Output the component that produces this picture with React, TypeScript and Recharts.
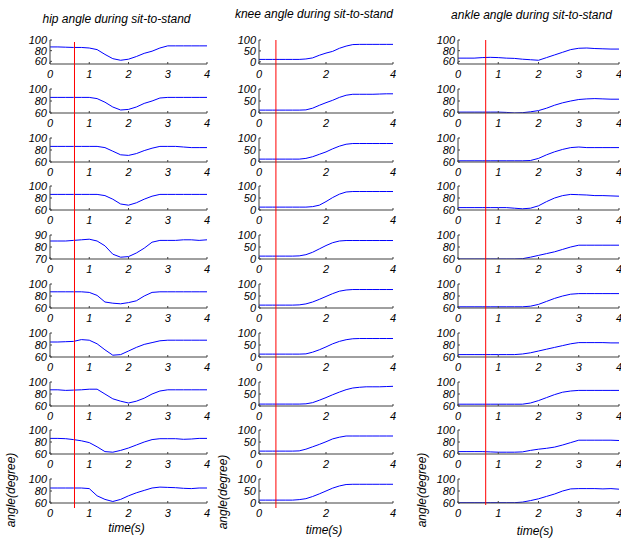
import { LineChart, Line, XAxis, YAxis, ReferenceLine } from "recharts";

// sample times (s)
const times = [0, 0.2, 0.4, 0.6, 0.8, 1, 1.2, 1.4, 1.6, 1.8, 2, 2.2, 2.4, 2.6, 2.8, 3, 3.2, 3.4, 3.6, 3.8, 4];

// hip angle, one row per trial
const hipAngles = [
  [87, 87, 86.5, 86, 86, 85, 82, 73, 65, 62, 64, 69, 75, 79, 85, 89, 89, 89, 89, 89, 89],
  [86, 86, 86, 86, 86, 86, 84, 78, 70, 65, 66, 70, 76, 80, 85, 86, 86, 86, 86, 86, 86],
  [86, 86, 86, 86, 86, 86, 86, 84, 78, 72, 71, 74, 79, 83, 86, 86, 86, 85, 84, 84, 84],
  [86, 86, 86, 86, 86, 86, 86, 84, 78, 70, 68, 72, 78, 83, 86, 86, 86, 86, 86, 86, 86],
  [85, 85, 85, 85.5, 86, 86.5, 85, 81, 74, 71.5, 72, 75, 79, 84, 85.5, 85.5, 85.5, 86, 86, 85.5, 86],
  [87, 87, 87, 87, 87, 86, 81, 70, 68, 67, 69, 72, 80, 86, 87, 87, 87, 87, 87, 87, 87],
  [85, 85, 85.5, 86, 89, 88, 82, 72, 63, 64, 70, 76, 81, 84, 87, 88, 88, 88, 88, 88, 88],
  [87, 87, 86, 86.5, 87, 88, 88, 80, 72, 68, 65, 68, 73, 80, 85, 87, 87, 87, 87, 87, 87],
  [86, 86, 85.5, 84, 82, 79, 72, 64, 63, 66, 70, 75, 80, 84, 85.5, 85.5, 85.5, 84.5, 85, 86, 86],
  [85, 85, 85, 85, 85, 84, 72, 66, 62.5, 66, 72, 77, 81, 85, 86.5, 86, 85.5, 84.5, 84, 85, 85],
];

const kneeAngles = [
  [11, 11, 11, 11, 11, 11, 11, 13, 18, 30, 40, 48, 62, 72, 79, 80, 80, 80, 80, 80, 80],
  [12, 12, 12, 12, 12, 12, 12, 13, 20, 32, 43, 53, 65, 74, 78, 78, 78, 78, 79, 80, 80],
  [12, 12, 12, 12, 12, 12, 12, 15, 22, 32, 42, 55, 66, 74, 77, 77, 77, 77, 77, 77, 77],
  [12, 12, 12, 12, 12, 12, 12, 12, 14, 20, 35, 52, 66, 75, 77, 77, 77, 77, 77, 77, 77],
  [12, 12, 12, 12, 12, 12, 13, 18, 28, 42, 56, 68, 75, 77, 77, 77, 77, 77, 77, 77, 77],
  [12, 12, 12, 12, 12, 12, 13, 17, 25, 36, 48, 60, 70, 75, 77, 77, 77, 77, 77, 77, 77],
  [12, 12, 12, 12, 12, 12, 12, 13, 20, 30, 42, 55, 65, 72, 76, 77, 77, 77, 77, 77, 77],
  [8, 8, 8, 8, 8, 8, 8, 9, 14, 24, 35, 47, 58, 68, 75, 78, 80, 80, 80, 81, 82],
  [12, 12, 12, 12, 12, 12, 13, 20, 30, 40, 51, 63, 70, 75, 75, 75, 75, 75, 75, 75, 75],
  [12, 12, 12, 12, 12, 12, 14, 18, 27, 38, 50, 62, 71, 77, 78, 78, 78, 78, 78, 78, 78],
];

const ankleAngles = [
  [66, 66, 66, 67, 67.5, 67, 66, 65.5, 64, 63, 62, 67, 72, 77, 82, 84.5, 85, 84, 83.5, 83, 83],
  [61.5, 61.5, 61.5, 61.5, 61.5, 61.5, 61, 60, 60.5, 62, 64, 68, 73, 77, 80, 82.5, 83.5, 84, 83.5, 83, 83],
  [62, 62, 62, 62, 62, 62, 62, 62, 62, 62.5, 66, 72, 77, 81, 84, 85, 84, 84, 84, 84, 84],
  [64, 64, 64, 64, 64, 64, 64, 63, 62, 63, 67, 74, 80, 84, 86, 85.5, 85, 84, 84, 83.5, 83],
  [60, 60, 60, 60, 60, 60, 60, 60, 60.5, 63, 66, 69, 72, 76, 80, 83, 83, 83, 83, 83, 83],
  [62, 62, 62, 62, 62, 62, 62, 62, 62, 63, 66, 71, 76, 80, 83, 84, 84, 84, 84, 84, 84],
  [64, 64, 64, 64, 64, 64, 64, 64, 65, 67, 70, 73, 76, 79, 82, 84, 84, 84, 84, 83.5, 83.5],
  [63, 63, 63, 63, 63, 63, 63, 63, 63, 65, 69, 74, 79, 83, 85, 86, 86, 86, 86, 86, 86],
  [64, 64, 64, 64, 63.5, 63, 63, 63, 63.5, 66, 68, 69.5, 71.5, 75, 79, 83, 83, 83, 83, 83, 82.5],
  [60.5, 60.5, 60.5, 60.5, 60.5, 60.5, 60.5, 60.5, 61.5, 64, 67, 71, 75, 80, 83.5, 84, 84, 84, 83.5, 84, 83],
];

// y limits and ticks per row
const hipRanges = [[55, 100], [60, 100], [60, 100], [60, 100], [70, 90], [60, 100], [60, 100], [60, 100], [60, 100], [60, 100]];
const hipYTicks = [[60, 80, 100], [60, 80, 100], [60, 80, 100], [60, 80, 100], [70, 80, 90], [60, 80, 100], [60, 80, 100], [60, 80, 100], [60, 80, 100], [60, 80, 100]];
const kneeRanges = [[-10, 100], [0, 100], [0, 100], [0, 100], [0, 100], [0, 100], [0, 100], [0, 100], [0, 100], [0, 100]];
const kneeYTicks = [0, 50, 100];
const ankleRanges = [[55, 100], [60, 100], [60, 100], [60, 100], [60, 100], [60, 100], [60, 100], [60, 100], [60, 100], [60, 100]];
const ankleYTicks = [60, 80, 100];

const hipXTicks = [0, 1, 2, 3, 4];
const kneeXTicks = [0, 2, 4];
const ankleXTicks = [0, 1, 2, 3, 4];

// red marker time in each column
const markerTimes = [0.624, 0.505, 0.688];

const titles = ["hip angle during sit-to-stand", "knee angle during sit-to-stand", "ankle angle during sit-to-stand"];

const FONT = '"Liberation Sans", Arial, sans-serif';
const AXIS = "#404040";
const TICK = { fill: "#000", fontSize: 11, fontStyle: "italic", fontFamily: FONT };
const PAD_TOP = 8;
const AX_W = 40;
const AX_H = 22;
const PAD_R = 6;
const PLOT_H = 24;
const ROW_TOPS = [40, 89, 138, 186, 235, 284, 333, 382, 430, 479];

function Subplot({ values, left, right, top, domain, yTicks, xTicks }: any) {
  const data = times.map((t, i) => ({ t, v: values[i] }));
  const w = right - left;
  return (
    <div style={{ position: "absolute", left: left - AX_W, top: top - PAD_TOP }}>
      <LineChart
        width={AX_W + w + PAD_R}
        height={PAD_TOP + PLOT_H + AX_H}
        data={data}
        margin={{ top: PAD_TOP, right: PAD_R, bottom: 0, left: 0 }}
      >
        <XAxis
          dataKey="t"
          type="number"
          domain={[0, 4]}
          ticks={xTicks}
          interval={0}
          height={AX_H}
          stroke={AXIS}
          tickSize={-2}
          tickMargin={8}
          tick={TICK}
        />
        <XAxis xAxisId="top" orientation="top" type="number" domain={[0, 4]} ticks={xTicks} height={0} mirror tick={false} tickSize={2} stroke={AXIS} />
        <YAxis
          type="number"
          domain={domain}
          ticks={yTicks}
          interval={0}
          width={AX_W}
          stroke={AXIS}
          tickSize={-2}
          tickMargin={5}
          tick={TICK}
          allowDataOverflow
        />
        <YAxis yAxisId="r" orientation="right" type="number" domain={domain} ticks={yTicks} width={0} mirror tick={false} tickSize={2} stroke={AXIS} />
        <Line type="linear" dataKey="v" stroke="#0000ff" strokeWidth={1} dot={false} isAnimationActive={false} />
      </LineChart>
    </div>
  );
}

// full-height red line across one column of subplots
function Marker({ time, left, right, top, bottom }: any) {
  const data = [{ t: time, v: 0 }, { t: time, v: 1 }];
  return (
    <div style={{ position: "absolute", left, top, pointerEvents: "none" }}>
      <LineChart width={right - left} height={bottom - top} data={data} margin={{ top: 0, right: 0, bottom: 0, left: 0 }}>
        <XAxis dataKey="t" type="number" domain={[0, 4]} hide />
        <YAxis dataKey="v" type="number" domain={[0, 1]} hide />
        <ReferenceLine x={time} stroke="#ff0000" strokeWidth={1} />
      </LineChart>
    </div>
  );
}

function Label({ x, y, children, rotate }: any) {
  return (
    <div
      style={{
        position: "absolute",
        left: x,
        top: y,
        transform: `translate(-50%, -50%)${rotate ? " rotate(-90deg)" : ""}`,
        whiteSpace: "nowrap",
        fontFamily: FONT,
        fontStyle: "italic",
        fontSize: 12,
        color: "#000",
      }}
    >
      {children}
    </div>
  );
}

const cols = [
  { left: 50, right: 207, series: hipAngles, ranges: hipRanges, yTicks: (r: number) => hipYTicks[r], xTicks: hipXTicks, mTop: 42, mBottom: 508 },
  { left: 259, right: 393, series: kneeAngles, ranges: kneeRanges, yTicks: () => kneeYTicks, xTicks: kneeXTicks, mTop: 40, mBottom: 508 },
  { left: 458, right: 619, series: ankleAngles, ranges: ankleRanges, yTicks: () => ankleYTicks, xTicks: ankleXTicks, mTop: 40, mBottom: 505 },
];

export default function App() {
  const titlePos = [[116.5, 19], [314, 14], [531.5, 15]];
  const xLabelPos = [[126.5, 528], [324, 530], [535, 531]];
  const yLabelPos = [[11, 490], [222.5, 492], [421.5, 490]];

  return (
    <div style={{ position: "absolute", left: 0, top: 0, width: 621, height: 539, background: "#fff", overflow: "hidden" }}>
      {cols.map((c, ci) =>
        c.series.map((values, r) => (
          <Subplot
            key={`${ci}-${r}`}
            values={values}
            left={c.left}
            right={c.right}
            top={ROW_TOPS[r]}
            domain={c.ranges[r]}
            yTicks={c.yTicks(r)}
            xTicks={c.xTicks}
          />
        ))
      )}
      {cols.map((c, ci) => (
        <div key={`t${ci}`}>
          <Label x={titlePos[ci][0]} y={titlePos[ci][1]}>{titles[ci]}</Label>
          <Label x={xLabelPos[ci][0]} y={xLabelPos[ci][1]}>time(s)</Label>
          <Label x={yLabelPos[ci][0]} y={yLabelPos[ci][1]} rotate>angle(degree)</Label>
        </div>
      ))}
      {cols.map((c, ci) => (
        <Marker key={`m${ci}`} time={markerTimes[ci]} left={c.left} right={c.right} top={c.mTop} bottom={c.mBottom} />
      ))}
    </div>
  );
}
